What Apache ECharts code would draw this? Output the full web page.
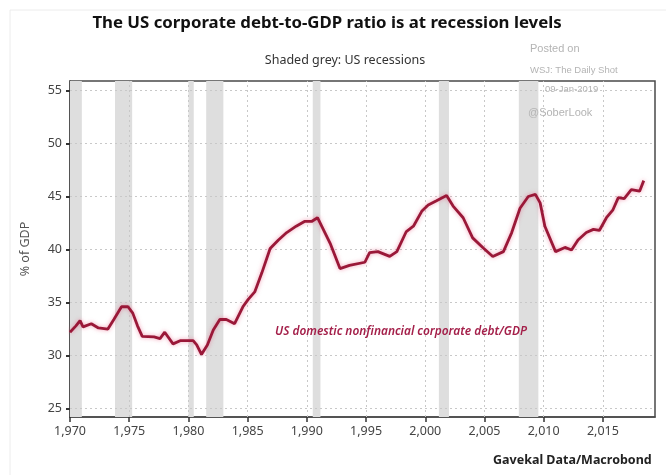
<!DOCTYPE html>
<html>
<head>
<meta charset="utf-8">
<script src="https://cdn.jsdelivr.net/npm/echarts@6/dist/echarts.min.js"></script>
<style>
  html, body { margin: 0; padding: 0; background: #ffffff; }
  #chart { width: 666px; height: 475px; }
</style>
</head>
<body>
<div id="chart"></div>
<script>
// US domestic nonfinancial corporate debt as % of GDP (decimal years)
const years = [
  1970.0, 1970.5, 1970.85, 1971.1, 1971.8, 1972.4, 1973.2, 1973.7, 1974.35, 1974.9,
  1975.3, 1975.7, 1976.1, 1977.1, 1977.6, 1978.0, 1978.7, 1979.3, 1980.4, 1980.7,
  1981.1, 1981.6, 1982.1, 1982.65, 1983.2, 1983.9, 1984.6, 1985.05, 1985.6, 1986.2,
  1986.9, 1987.6, 1988.3, 1989.1, 1989.8, 1990.4, 1990.9, 1992.0, 1992.8, 1993.6,
  1994.9, 1995.3, 1996.0, 1997.0, 1997.6, 1998.4, 1999.0, 1999.7, 2000.25, 2000.95,
  2001.8, 2002.35, 2003.2, 2004.0, 2004.9, 2005.7, 2006.6, 2007.3, 2008.0, 2008.7,
  2009.3, 2009.7, 2010.1, 2011.0, 2011.8, 2012.35, 2012.9, 2013.6, 2014.2, 2014.7,
  2015.3, 2015.85, 2016.3, 2016.8, 2017.4, 2018.1, 2018.45
];
const debtToGdp = [
  32.2, 32.8, 33.3, 32.7, 33.0, 32.6, 32.5, 33.4, 34.6, 34.6,
  34.0, 32.8, 31.8, 31.75, 31.6, 32.2, 31.1, 31.4, 31.4, 31.0,
  30.1, 31.0, 32.4, 33.4, 33.4, 33.0, 34.6, 35.3, 36.0, 37.8,
  40.1, 40.9, 41.6, 42.2, 42.65, 42.65, 43.0, 40.5, 38.2, 38.5,
  38.8, 39.7, 39.8, 39.35, 39.8, 41.7, 42.2, 43.6, 44.2, 44.6,
  45.1, 44.1, 43.0, 41.1, 40.15, 39.35, 39.8, 41.6, 43.9, 45.0,
  45.2, 44.4, 42.2, 39.8, 40.2, 39.95, 40.9, 41.6, 41.9, 41.8,
  43.0, 43.75, 44.9, 44.8, 45.65, 45.5, 46.5
];

// US recessions (start, end), decimal years
const recessions = [
  [1969.9, 1971.0], [1973.8, 1975.25], [1980.0, 1980.45], [1981.5, 1982.95],
  [1990.5, 1991.15], [2001.15, 2002.0], [2007.9, 2009.55]
];

// Tick positions
const xTicks = [1970, 1975, 1980, 1985, 1990, 1995, 2000, 2005, 2010, 2015];
const yTicks = [25, 30, 35, 40, 45, 50, 55];

const gridStyle = { color: '#c8c8c8', type: [2, 3], width: 1 };
const noteStyle = { fill: '#b4b4b4', fontFamily: 'Liberation Sans', fontSize: 11 };

const chart = echarts.init(document.getElementById('chart'), null, { renderer: 'canvas' });

chart.setOption({
  backgroundColor: '#ffffff',
  animation: false,
  title: [
    {
      text: 'The US corporate debt-to-GDP ratio is at recession levels',
      left: 322, top: 10, textAlign: 'center',
      textStyle: { fontFamily: 'Noto Sans', fontSize: 16.8, fontWeight: 'bold', color: '#111' }
    },
    {
      text: 'Shaded grey: US recessions',
      left: 340, top: 49, textAlign: 'center',
      textStyle: { fontFamily: 'Noto Sans', fontSize: 12.5, fontWeight: 'normal', color: '#333' }
    }
  ],
  grid: {
    left: 70, right: 11, top: 81, bottom: 58,
    show: true, borderColor: '#4a4a4a', borderWidth: 1.5, backgroundColor: 'transparent'
  },
  xAxis: {
    type: 'value',
    min: 1970, max: 2019.4,
    axisLine: { show: true, lineStyle: { color: '#4a4a4a', width: 1.5 } },
    axisTick: { show: true, customValues: xTicks, length: 5, inside: false, lineStyle: { color: '#333', width: 1.5 } },
    axisLabel: {
      customValues: xTicks, margin: 8,
      fontFamily: 'Noto Sans', fontSize: 12.5, color: '#444'
    },
    splitLine: { show: false }
  },
  yAxis: {
    type: 'value',
    min: 24.2, max: 55.9,
    name: '% of GDP', nameLocation: 'middle', nameGap: 38, nameRotate: 90,
    nameTextStyle: { fontFamily: 'Noto Sans', fontSize: 12.5, color: '#555' },
    axisLine: { show: true, lineStyle: { color: '#4a4a4a', width: 1.5 } },
    axisTick: { show: true, customValues: yTicks, length: 4, lineStyle: { color: '#333', width: 2 } },
    axisLabel: {
      customValues: yTicks, margin: 8,
      fontFamily: 'Noto Sans', fontSize: 12.5, color: '#444'
    },
    splitLine: { show: false }
  },
  graphic: [
    // outer frame of the figure
    { type: 'rect', shape: { x: 10, y: 10, width: 680, height: 500 }, style: { fill: 'none', stroke: '#ececec', lineWidth: 1 }, silent: true },
    // source stamp, drawn above the recession shading
    { type: 'text', x: 530, y: 43, z: 100, style: Object.assign({ text: 'Posted on' }, noteStyle) },
    { type: 'text', x: 530, y: 65, z: 100, style: Object.assign({ text: 'WSJ: The Daily Shot' }, noteStyle, { fontSize: 9.5 }) },
    { type: 'text', x: 545, y: 84, z: 100, style: Object.assign({ text: '09-Jan-2019' }, noteStyle, { fontSize: 9.5 }) },
    { type: 'text', x: 528, y: 107, z: 100, style: Object.assign({ text: '@SoberLook' }, noteStyle) },
    {
      type: 'text', x: 275, y: 326, z: 100,
      style: {
        text: 'US domestic nonfinancial corporate debt/GDP',
        fontFamily: 'Noto Sans', fontStyle: 'italic', fontWeight: 600, fontSize: 11.9, fill: '#a4204a'
      }
    },
    {
      type: 'text', x: 493, y: 454, z: 100,
      style: { text: 'Gavekal Data/Macrobond', fontFamily: 'Noto Sans', fontWeight: 'bold', fontSize: 12.5, fill: '#222' }
    }
  ],
  series: [
    {
      // recession shading and dotted gridlines
      type: 'line',
      data: [],
      silent: true,
      markArea: {
        silent: true,
        itemStyle: { color: '#dedede' },
        data: recessions.map(r => [{ xAxis: r[0] }, { xAxis: r[1] }])
      },
      markLine: {
        silent: true, symbol: 'none', label: { show: false },
        lineStyle: gridStyle,
        data: xTicks.filter(v => v > 1970).map(v => ({ xAxis: v }))
          .concat(yTicks.map(v => ({ yAxis: v })))
      }
    },
    {
      name: 'US domestic nonfinancial corporate debt/GDP',
      type: 'line',
      data: years.map((y, i) => [y, debtToGdp[i]]),
      showSymbol: false,
      smooth: false,
      lineStyle: {
        color: '#9a1838', width: 2.8,
        shadowColor: 'rgba(230, 80, 120, 0.55)', shadowBlur: 4
      },
      z: 5
    }
  ]
});
</script>
</body>
</html>
